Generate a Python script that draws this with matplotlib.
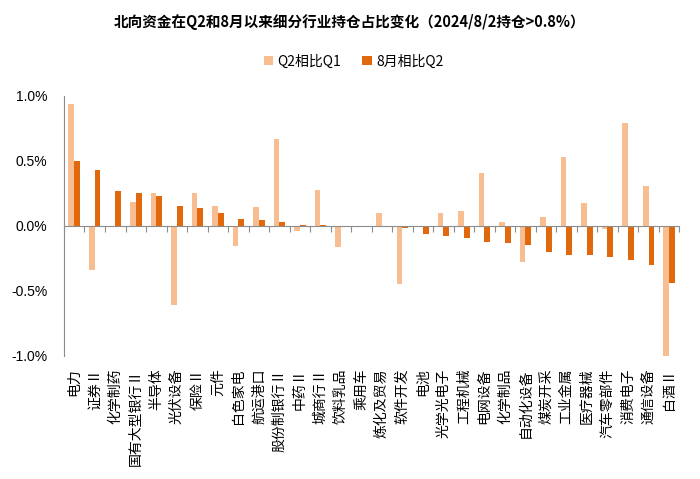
import numpy as np
import matplotlib
matplotlib.use("Agg")
import matplotlib.pyplot as plt

plt.rcParams['font.family'] = ['Noto Sans CJK SC', 'DejaVu Sans']

industries = ["电力", "证券Ⅱ", "化学制药", "国有大型银行Ⅱ", "半导体", "光伏设备", "保险Ⅱ", "元件",
              "白色家电", "航运港口", "股份制银行Ⅱ", "中药Ⅱ", "城商行Ⅱ", "饮料乳品", "乘用车",
              "炼化及贸易", "软件开发", "电池", "光学光电子", "工程机械", "电网设备", "化学制品",
              "自动化设备", "煤炭开采", "工业金属", "医疗器械", "汽车零部件", "消费电子", "通信设备", "白酒Ⅱ"]

# 单位: %
q2_vs_q1 = [0.94, -0.34, 0.0, 0.18, 0.25, -0.605, 0.25, 0.15,
            -0.156, 0.146, 0.67, -0.04, 0.274, -0.164, -0.005,
            0.097, -0.45, -0.005, 0.10, 0.115, 0.41, 0.03,
            -0.28, 0.067, 0.533, 0.177, -0.026, 0.79, 0.305, -1.01]
aug_vs_q2 = [0.50, 0.43, 0.27, 0.25, 0.226, 0.154, 0.136, 0.10,
             0.05, 0.044, 0.03, 0.01, 0.01, -0.005, -0.005,
             -0.01, -0.02, -0.064, -0.077, -0.09, -0.123, -0.13,
             -0.146, -0.20, -0.228, -0.228, -0.236, -0.264, -0.30, -0.44]

light = '#F8BE91'
dark = '#E2680E'

fig = plt.figure(figsize=(7, 4.79), dpi=100)
ax = fig.add_axes([0.0914, 0.257, 0.879, 0.543])

x = np.arange(len(industries))
w = 0.28
ax.bar(x - w / 2, q2_vs_q1, width=w, color=light, label='Q2相比Q1')
ax.bar(x + w / 2, aug_vs_q2, width=w, color=dark, label='8月相比Q2')

ax.set_xlim(-0.5, len(industries) - 0.5)
ax.set_ylim(-1.0, 1.0)
ax.set_yticks([-1.0, -0.5, 0.0, 0.5, 1.0])
ax.set_yticklabels([f'{v:.1f}%' for v in [-1.0, -0.5, 0.0, 0.5, 1.0]],
                   family=['Liberation Sans', 'DejaVu Sans'], fontsize=10)
ax.tick_params(axis='y', length=0, pad=12)

for s in ['top', 'right']:
    ax.spines[s].set_visible(False)
ax.spines['left'].set_color('#8c8c8c')
ax.spines['bottom'].set_position(('data', 0))
ax.spines['bottom'].set_color('#8c8c8c')

# 零轴上的分隔刻度
ax.set_xticks(np.arange(-0.5, len(industries) + 0.5, 1.0))
ax.set_xticklabels([])
ax.tick_params(axis='x', direction='out', length=4, color='#8c8c8c')

# 行业标签放在底部（旋转90度）
sec = ax.secondary_xaxis(0)
sec.set_xticks(x)
sec.set_xticklabels(industries, rotation=90, fontsize=10, va='top', ha='center')
sec.tick_params(length=0, pad=9)
sec.spines['bottom'].set_visible(False)

fig.text(0.5, 0.955, '北向资金在Q2和8月以来细分行业持仓占比变化（2024/8/2持仓>0.8%）',
         ha='center', va='center', fontsize=10.5, fontweight='bold')

fig.legend(loc='center', bbox_to_anchor=(0.505, 0.872), ncol=2, frameon=False,
           fontsize=10, handlelength=0.7, handleheight=0.7, handletextpad=0.3,
           columnspacing=1.5)

fig.savefig('out.png', dpi=100)
